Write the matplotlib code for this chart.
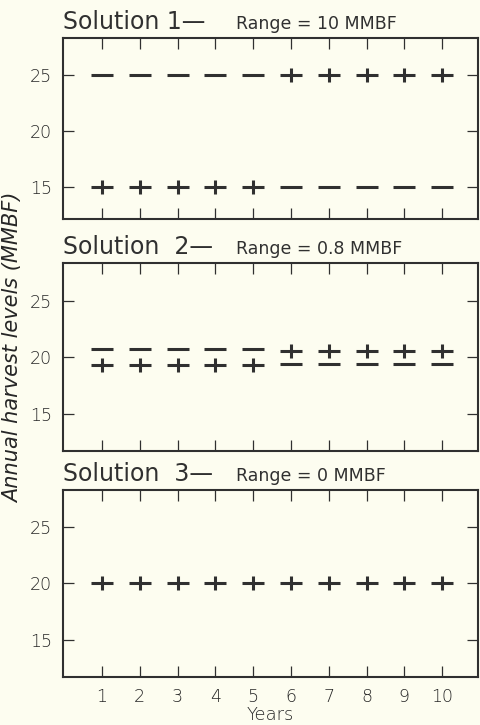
import matplotlib
matplotlib.use("Agg")
import matplotlib.pyplot as plt
from matplotlib.path import Path

# Harvest schedules for three solutions (MMBF per year)
years = [1, 2, 3, 4, 5, 6, 7, 8, 9, 10]

sol1_plus = [15, 15, 15, 15, 15, 25, 25, 25, 25, 25]
sol1_minus = [25, 25, 25, 25, 25, 15, 15, 15, 15, 15]

sol2_plus = [19.3, 19.3, 19.3, 19.3, 19.3, 20.6, 20.6, 20.6, 20.6, 20.6]
sol2_minus = [20.7, 20.7, 20.7, 20.7, 20.7, 19.4, 19.4, 19.4, 19.4, 19.4]

sol3_plus = [20, 20, 20, 20, 20, 20, 20, 20, 20, 20]
sol3_minus = []

titles = ["Solution 1\u2014", "Solution  2\u2014", "Solution  3\u2014"]
ranges = ["Range = 10 MMBF", "Range = 0.8 MMBF", "Range = 0 MMBF"]
yticks = [15, 20, 25]
xtick_labels = ["1", "2", "3", "4", "5", "6", "7", "8", "9", "10"]

BG = "#fdfdf0"
INK = "#303030"
LABEL = "#262626"
FONT = ["DejaVu Sans"]

W, H = 481, 725
fig = plt.figure(figsize=(W / 100, H / 100), dpi=100, facecolor=BG)

# Wide, flat plus marker
plus_marker = Path([(-1, 0), (1, 0), (0, -0.62), (0, 0.62)],
                   [Path.MOVETO, Path.LINETO, Path.MOVETO, Path.LINETO])

# Panel frames in pixel coordinates: (top, bottom), plus y-limits
frames = [(38, 219, (12.1, 28.3)), (263, 451, (11.7, 28.35)), (490, 677, (11.7, 28.25))]
left_px, right_px = 63, 478

series = [(sol1_plus, sol1_minus), (sol2_plus, sol2_minus), (sol3_plus, sol3_minus)]

for i, ((top, bot, ylim), (plus_v, minus_v)) in enumerate(zip(frames, series)):
    ax = fig.add_axes([left_px / W, 1 - bot / H, (right_px - left_px) / W, (bot - top) / H])
    ax.set_facecolor(BG)
    ax.set_xlim(-0.03, 10.95)
    ax.set_ylim(*ylim)

    ax.plot(years, plus_v, linestyle="none", marker=plus_marker, markersize=16,
            markeredgewidth=2.2, color=INK)
    if minus_v:
        ax.plot(years, minus_v, linestyle="none", marker="_", markersize=16,
                markeredgewidth=2.2, color=INK)

    for sp in ax.spines.values():
        sp.set_linewidth(1.5)
        sp.set_color(INK)

    ax.set_yticks(yticks)
    ax.set_yticklabels([str(v) for v in yticks])
    ax.set_xticks(years)
    if i == 2:
        ax.set_xticklabels(xtick_labels)
    else:
        ax.set_xticklabels([])
    ax.tick_params(direction="in", length=8, width=0.9, color=INK,
                   top=True, right=True, labelsize=12.5, labelcolor=LABEL,
                   pad=8)
    for lab in ax.get_yticklabels() + ax.get_xticklabels():
        lab.set_family(FONT)
        lab.set_fontweight("light")

    # Panel heading
    fig.text(left_px / W, 1 - (top - 9) / H, titles[i], fontsize=17,
             family=FONT, color=INK, va="baseline", ha="left")
    fig.text(236 / W, 1 - (top - 9) / H, ranges[i], fontsize=12.5,
             family=FONT, color=INK, va="baseline", ha="left")

fig.text(13 / W, 1 - 348 / H, "Annual harvest levels (MMBF)", rotation=90,
         fontsize=15, style="italic", weight="light", family=FONT, color=LABEL,
         ha="center", va="center")
fig.text(270 / W, 1 - 715 / H, "Years", fontsize=13, family=FONT,
         weight="light", color=LABEL, ha="center", va="center")

fig.savefig("out.png", dpi=100, facecolor=BG)
